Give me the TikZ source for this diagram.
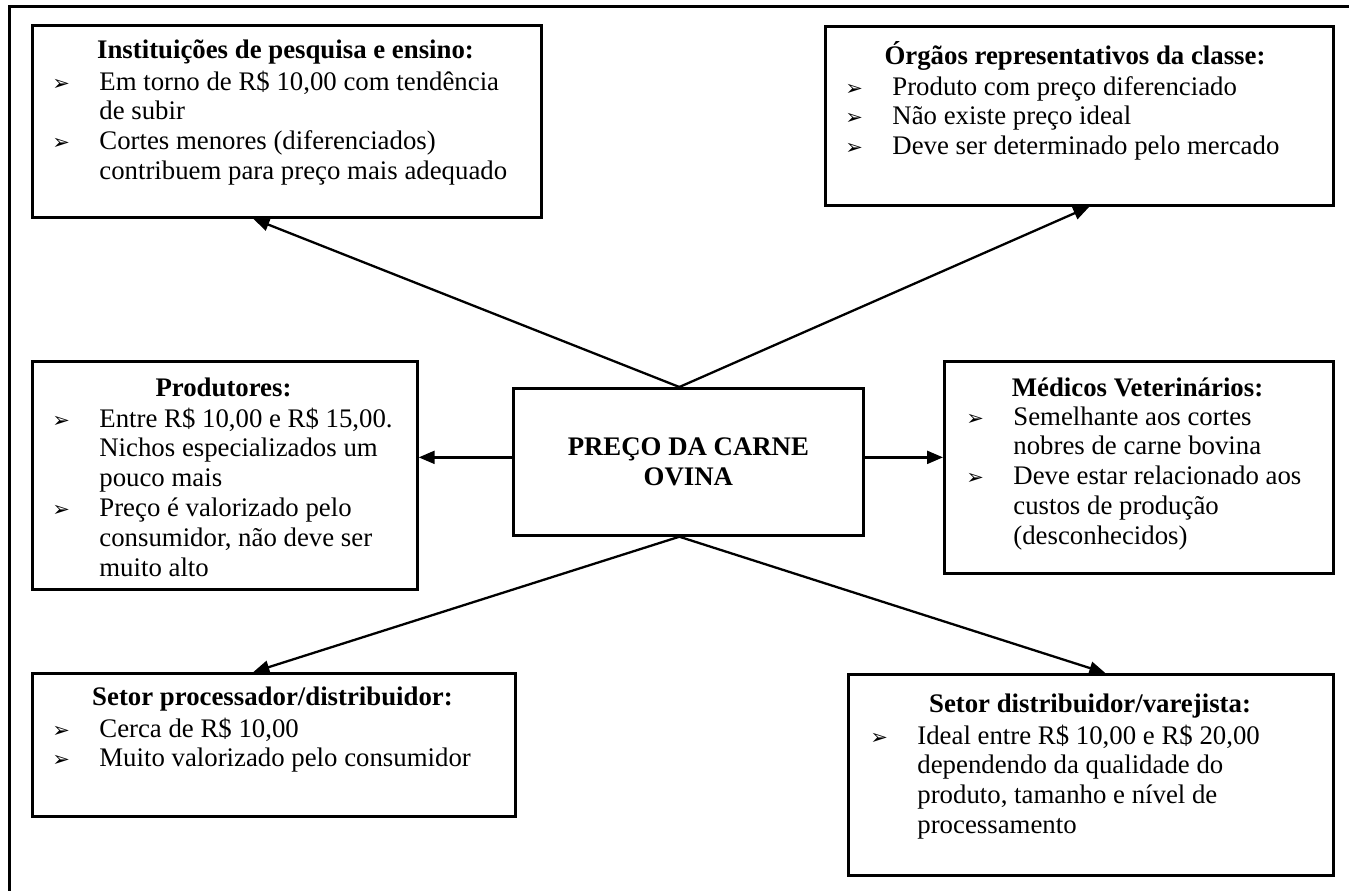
\documentclass[tikz,border=0pt]{standalone}
\usepackage{fontspec}
\setmainfont{Liberation Serif}
\newfontfamily\dingfont{DejaVu Sans}
\usetikzlibrary{arrows.meta}
% body text size and bullet
\newcommand\bodyfont{\fontsize{13.4pt}{15pt}\selectfont}
\newcommand\bul{{\dingfont\fontsize{10.5pt}{10.5pt}\selectfont ➢}}
\newlength\hangw
\setlength\hangw{23.5pt}
% first line of a bulleted item, and its continuation lines
\newcommand\fl[1]{\hbox{\makebox[\hangw][l]{\bul}#1}}
\newcommand\cl[1]{\hbox{\hspace*{\hangw}#1}}
% a stack of lines whose baseline is that of its first line
\newcommand\lines[1]{\vtop{\lineskiplimit=-100pt\relax #1}}
\begin{document}
\begin{tikzpicture}[x=0.5pt,y=-0.5pt,
  every node/.style={font=\bodyfont},
  box/.style={draw, line width=1.35pt, anchor=north west, inner sep=0pt},
  head/.style={anchor=base, inner sep=0pt, font=\bodyfont\bfseries},
  list/.style={anchor=base west, inner sep=0pt,
               font=\fontsize{13.4pt}{#1}\selectfont},
  list/.default=14.9pt,
  arr/.style={line width=1.15pt, -{Triangle[length=8pt,width=6.5pt]}}]
\useasboundingbox (0,0) rectangle (1349,891);

% page frame (top and left rules)
\draw[line width=1.5pt] (1349,6) -- (9,6) -- (9,891);

% central box
\node[box, minimum width=175pt, minimum height=73.5pt, align=center,
      font=\bodyfont\bfseries] (c) at (512,387) {PREÇO DA CARNE\\OVINA};

% research and teaching institutions
\node[box, minimum width=254.5pt, minimum height=96pt] (tl) at (31,24) {};
\node[head] (tlh) at (285.5,58) {Instituições de pesquisa e ensino:};
\node[list] (tll) at (52,90) {\lines{%
  \fl{Em torno de R\$ 10,00 com tendência}\cl{de subir}%
  \fl{Cortes menores (diferenciados)}\cl{contribuem para preço mais adequado}}};

% class bodies
\node[box, minimum width=254pt, minimum height=89.5pt] (tr) at (824,25) {};
\node[head] (trh) at (1075,64) {Órgãos representativos da classe:};
\node[list] (trl) at (845,95) {\lines{%
  \fl{Produto com preço diferenciado}\fl{Não existe preço ideal}%
  \fl{Deve ser determinado pelo mercado}}};

% producers
\node[box, minimum width=192.5pt, minimum height=114pt] (p) at (31,360) {};
\node[head] (ph) at (223.5,396) {Produtores:};
\node[list] (pl) at (52,427) {\lines{%
  \fl{Entre R\$ 10,00 e R\$ 15,00.}\cl{Nichos especializados um}\cl{pouco mais}%
  \fl{Preço é valorizado pelo}\cl{consumidor, não deve ser}\cl{muito alto}}};

% veterinarians
\node[box, minimum width=194.5pt, minimum height=106pt] (m) at (943,360) {};
\node[head] (mh) at (1137.5,396) {Médicos Veterinários:};
\node[list] (ml) at (966,425) {\lines{%
  \fl{Semelhante aos cortes}\cl{nobres de carne bovina}%
  \fl{Deve estar relacionado aos}\cl{custos de produção}\cl{(desconhecidos)}}};

% processing / distribution
\node[box, minimum width=241.5pt, minimum height=71.5pt] (bl) at (31,672) {};
\node[head] (blh) at (272.5,705) {Setor processador/distribuidor:};
\node[list] (bll) at (52,737) {\lines{%
  \fl{Cerca de R\$ 10,00}\fl{Muito valorizado pelo consumidor}}};

% distribution / retail
\node[box, minimum width=242.5pt, minimum height=100.5pt] (br) at (847,673) {};
\node[head] (brh) at (1090,712) {Setor distribuidor/varejista:};
\node[list] (brl) at (870,744) {\lines{%
  \fl{Ideal entre R\$ 10,00 e R\$ 20,00}\cl{dependendo da qualidade do}%
  \cl{produto, tamanho e nível de}\cl{processamento}}};

% connectors
\draw[arr] ([xshift=-4.5pt]c.north) -- ([xshift=-16.75pt]tl.south);
\draw[arr] ([xshift=-4.5pt]c.north) -- ([xshift=5pt]tr.south);
\draw[arr] ([yshift=2.25pt]c.west) -- ([yshift=2.25pt]c.west -| p.east);
\draw[arr] ([yshift=2.25pt]c.east) -- ([yshift=2.25pt]c.east -| m.west);
\draw[arr] ([xshift=-4.5pt]c.south) -- ([xshift=-10.25pt]bl.north);
\draw[arr] ([xshift=-4.5pt]c.south) -- ([xshift=7.25pt]br.north);
\end{tikzpicture}
\end{document}
